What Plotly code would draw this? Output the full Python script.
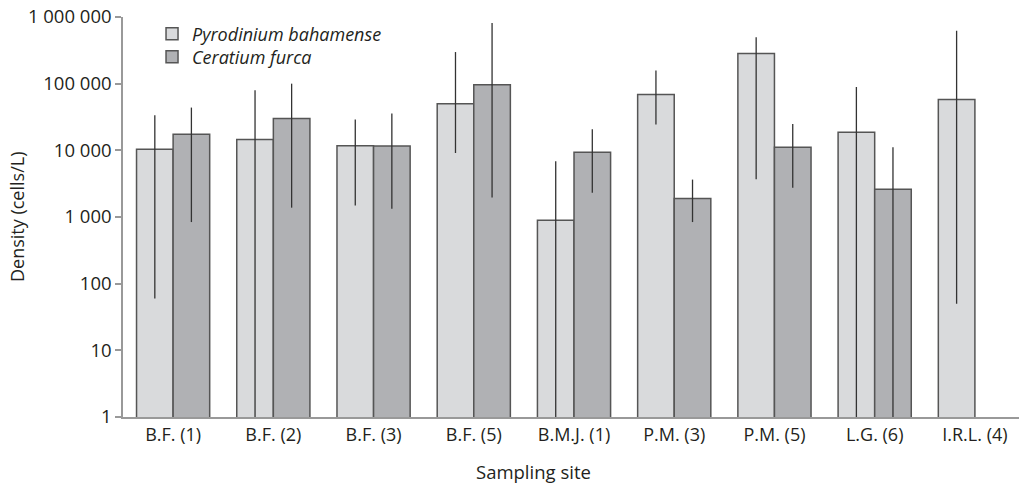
import plotly.graph_objects as go

sites = ["B.F. (1)", "B.F. (2)", "B.F. (3)", "B.F. (5)", "B.M.J. (1)",
         "P.M. (3)", "P.M. (5)", "L.G. (6)", "I.R.L. (4)"]

pyro_mean = [10400, 14600, 11750, 50000, 890, 69000, 283000, 18700, 58000]
pyro_upper = [33500, 79500, 29000, 298000, 6840, 158000, 496000, 89000, 624000]
pyro_lower = [60, 1, 1490, 9120, 1, 24500, 3680, 1, 50]

cer_mean = [17400, 29900, 11600, 96700, 9340, 1890, 11100, 2600, None]
cer_upper = [43800, 100000, 35600, 813000, 20700, 3640, 24800, 11100, None]
cer_lower = [840, 1380, 1330, 1960, 2320, 840, 2750, 1, None]

tick_vals = [1, 10, 100, 1000, 10000, 100000, 1000000]
tick_text = ["1", "10", "100", "1 000", "10 000", "100 000", "1 000 000"]

FONT = "Open Sans"
TXT = "#231f20"


def err(mean, up, lo):
    plus = [None if m is None else u - m for m, u in zip(mean, up)]
    minus = [None if m is None else m - l for m, l in zip(mean, lo)]
    return plus, minus


pp, pm = err(pyro_mean, pyro_upper, pyro_lower)
cp, cm = err(cer_mean, cer_upper, cer_lower)

fig = go.Figure()
fig.add_trace(go.Bar(
    x=sites, y=pyro_mean, name="Pyrodinium bahamense", legend="legend",
    marker=dict(color="#d9dadc", line=dict(color="#555555", width=1.5)),
    error_y=dict(type="data", symmetric=False, array=pp, arrayminus=pm,
                 width=0, thickness=1.3, color="#333333"),
))
fig.add_trace(go.Bar(
    x=sites, y=cer_mean, name="Ceratium furca", legend="legend2",
    marker=dict(color="#b0b1b4", line=dict(color="#555555", width=1.5)),
    error_y=dict(type="data", symmetric=False, array=cp, arrayminus=cm,
                 width=0, thickness=1.3, color="#333333"),
))

legend_common = dict(xanchor="left", yanchor="middle",
                     font=dict(family=FONT, size=18, color=TXT, style="italic"),
                     bgcolor="rgba(0,0,0,0)", borderwidth=0)

fig.update_layout(
    width=1019, height=483,
    margin=dict(l=123, r=0, t=17, b=66, pad=0),
    paper_bgcolor="white", plot_bgcolor="white",
    barmode="group", bargap=0.27, bargroupgap=0,
    font=dict(family=FONT, size=18, color=TXT),
    showlegend=True,
    legend=dict(x=0.0324, y=0.9575, **legend_common),
    legend2=dict(x=0.0324, y=0.9, **legend_common),
    annotations=[
        dict(text="Sampling site", xref="paper", yref="paper",
             x=0.4587, y=-0.135, xanchor="center", yanchor="middle",
             showarrow=False, font=dict(family=FONT, size=18.5, color=TXT)),
        dict(text="Density (cells/L)", xref="paper", yref="paper",
             x=-0.1183, y=0.5, xanchor="center", yanchor="middle",
             textangle=-90, showarrow=False,
             font=dict(family=FONT, size=18, color=TXT)),
    ],
)
fig.update_xaxes(
    type="category", range=[-0.5, 8.44],
    showline=True, linecolor="#999999", linewidth=2,
    ticks="", showgrid=False, zeroline=False,
    tickfont=dict(family=FONT, size=18, color=TXT),
)
fig.update_yaxes(
    type="log", range=[0, 6],
    tickvals=tick_vals, ticktext=tick_text,
    showline=True, linecolor="#999999", linewidth=1.5,
    ticks="outside", ticklen=6, tickcolor="#999999", tickwidth=1.5,
    showgrid=False, zeroline=False,
    tickfont=dict(family=FONT, size=18.5, color=TXT),
)

fig.write_html("out.html")
